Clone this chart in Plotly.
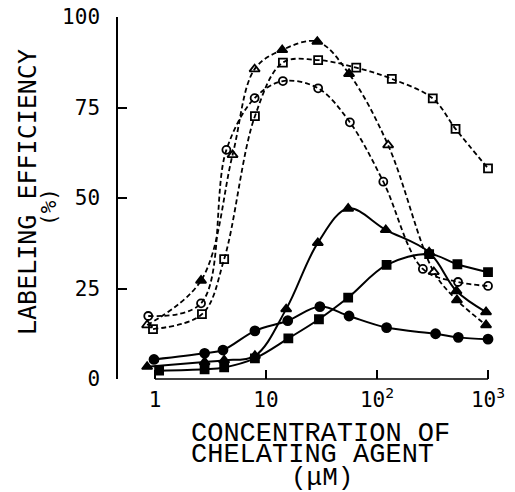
import plotly.graph_objects as go

# ---- data (concentration in uM, efficiency in %) ----
x_open_tri = [0.85, 2.6, 5.0, 7.9, 14.0, 29.0, 56.0, 126.0, 325.0, 525.0, 960.0]
y_open_tri = [14.9, 27.2, 61.9, 85.6, 90.9, 93.2, 84.3, 64.6, 29.6, 21.8, 14.9]

x_open_sq = [0.96, 2.65, 4.2, 7.95, 14.2, 29.5, 65.0, 136.0, 318.0, 510.0, 1000.0]
y_open_sq = [13.8, 17.9, 33.1, 72.6, 87.4, 88.1, 86.0, 82.9, 77.5, 69.1, 58.2]

x_open_circ = [0.87, 2.6, 4.4, 7.9, 14.2, 29.5, 57.0, 114.0, 259.0, 537.0, 1000.0]
y_open_circ = [17.4, 20.9, 63.3, 77.6, 82.3, 80.3, 70.9, 54.5, 30.4, 26.8, 25.7]

x_fill_circ = [0.98, 2.8, 4.1, 7.95, 15.7, 30.6, 56.0, 122.0, 337.0, 540.0, 1000.0]
y_fill_circ = [5.4, 7.1, 8.0, 13.3, 16.1, 20.0, 17.4, 14.2, 12.5, 11.5, 11.0]

x_fill_sq = [1.09, 2.8, 4.2, 7.95, 15.9, 30.0, 55.0, 122.0, 295.0, 530.0, 1000.0]
y_fill_sq = [2.3, 2.7, 3.2, 5.7, 11.2, 16.5, 22.5, 31.5, 34.5, 31.7, 29.5]

x_fill_tri = [0.85, 2.8, 4.2, 7.95, 15.2, 29.3, 55.0, 120.0, 295.0, 520.0, 960.0]
y_fill_tri = [3.4, 4.7, 5.2, 6.4, 19.3, 37.6, 47.1, 41.2, 35.0, 24.3, 18.5]

x_tickvals = [1, 10, 100, 1000]
x_ticktext = ["1", "10", "10<sup>2</sup>", "10<sup>3</sup>"]
y_tickvals = [0, 25, 50, 75, 100]
y_ticktext = ["0", "25", "50", "75", "100"]

# ---- styles ----
BLACK = "black"
DASH = "5px,3px"
open_tri_symbols = ["triangle-up-open", "triangle-up", "triangle-up-open", "triangle-up-open",
                    "triangle-up", "triangle-up", "triangle-up", "triangle-up-open",
                    "triangle-up-open", "triangle-up", "triangle-up"]

W, H = 515, 492
ML, MR, MT, MB = 118, 20, 17, 113
PW, PH = W - ML - MR, H - MT - MB


def px_x(px):
    return (px - ML) / PW


def px_y(py):
    return (H - MB - py) / PH


fig = go.Figure()


def add(x, y, dash, symbol, size, width):
    fig.add_trace(go.Scatter(
        x=x, y=y, mode="lines+markers",
        line=dict(color=BLACK, width=width, dash=dash, shape="spline", smoothing=1.0),
        marker=dict(symbol=symbol, size=size, color=BLACK,
                    line=dict(color=BLACK, width=1.8)),
        cliponaxis=False, showlegend=False, hoverinfo="skip"))


add(x_open_sq, y_open_sq, DASH, "square-open", 8, 1.8)
add(x_open_circ, y_open_circ, DASH, "circle-open", 8, 1.8)
add(x_open_tri, y_open_tri, DASH, open_tri_symbols, 9, 1.8)
add(x_fill_circ, y_fill_circ, "solid", "circle", 9, 2)
add(x_fill_sq, y_fill_sq, "solid", "square", 8, 2)
add(x_fill_tri, y_fill_tri, "solid", "triangle-up", 9, 2)

TICKFONT = dict(family="DejaVu Sans Mono", size=21, color=BLACK)

fig.update_layout(
    width=W, height=H,
    margin=dict(l=ML, r=MR, t=MT, b=MB),
    paper_bgcolor="white", plot_bgcolor="white",
    showlegend=False,
    xaxis=dict(type="log", range=[-0.333, 3.063], automargin=False,
               tickvals=x_tickvals, ticktext=x_ticktext,
               ticks="inside", ticklen=9, tickwidth=1.5, tickcolor=BLACK,
               showline=False, showgrid=False, zeroline=False,
               tickfont=TICKFONT, ticklabelstandoff=6),
    yaxis=dict(range=[0, 100], tickvals=y_tickvals, ticktext=y_ticktext, automargin=False,
               ticks="inside", ticklen=9, tickwidth=1.5, tickcolor=BLACK,
               showline=True, linewidth=1.5, linecolor=BLACK,
               showgrid=False, zeroline=False,
               tickfont=TICKFONT, ticklabelstandoff=12),
    shapes=[dict(type="line", xref="x", yref="paper", x0=1, x1=1000, y0=0, y1=0,
                 line=dict(color=BLACK, width=1.5))],
)

YFONT = dict(family="DejaVu Sans Mono", size=25, color=BLACK)
XFONT = dict(family="Liberation Mono", size=27, color=BLACK)

fig.add_annotation(text="LABELING EFFICIENCY", xref="paper", yref="paper",
                   x=px_x(27), y=px_y(192), textangle=-90, showarrow=False,
                   xanchor="center", yanchor="middle", borderpad=0, font=YFONT)
fig.add_annotation(text="(%)", xref="paper", yref="paper",
                   x=px_x(49), y=px_y(207), textangle=-90, showarrow=False,
                   xanchor="center", yanchor="middle", borderpad=0,
                   font=dict(family="DejaVu Sans Mono", size=21, color=BLACK))
fig.add_annotation(text="CONCENTRATION OF", xref="paper", yref="paper",
                   x=px_x(190), y=px_y(434), showarrow=False, borderpad=0,
                   xanchor="left", yanchor="middle", font=XFONT)
fig.add_annotation(text="CHELATING AGENT", xref="paper", yref="paper",
                   x=px_x(190), y=px_y(455), showarrow=False, borderpad=0,
                   xanchor="left", yanchor="middle", font=XFONT)
fig.add_annotation(text="(μM)", xref="paper", yref="paper",
                   x=px_x(322), y=px_y(478), showarrow=False, borderpad=0,
                   xanchor="center", yanchor="middle",
                   font=dict(family="Liberation Mono", size=26, color=BLACK))

fig.write_html("out.html", config={"displayModeBar": False},
               post_script="document.body.style.margin='0px';")
